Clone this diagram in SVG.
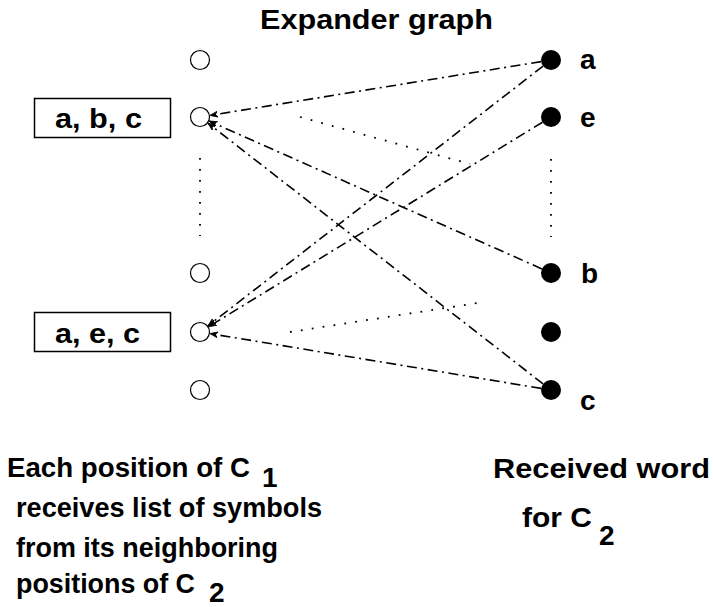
<svg xmlns="http://www.w3.org/2000/svg" width="713" height="607" viewBox="0 0 713 607">
  <style>
    text { font-family: "Liberation Sans", Arial, Helvetica, sans-serif; font-weight: bold; fill: #000; }
    .lbl { font-size: 28px; }
    .pos { fill: #fff; stroke: #000; stroke-width: 1.2; }
    .sym { fill: #000; }
    .box { fill: #fff; stroke: #000; stroke-width: 1.5; }
    .edge { stroke: #000; stroke-width: 1.6; fill: none; stroke-dasharray: 10 4.5 2 4.5; marker-end: url(#head); }
    .dots { stroke: #000; stroke-width: 1.8; fill: none; stroke-dasharray: 1.8 9.2; }
  </style>
  <defs>
    <marker id="head" markerUnits="userSpaceOnUse" markerWidth="10" markerHeight="8" refX="8" refY="3.5" orient="auto">
      <path d="M0,0.5 L8,3.5 L0,6.5 L2.5,3.5 Z" fill="#000" stroke="#000" stroke-width="0.8" stroke-linejoin="miter"/>
    </marker>
  </defs>

  <text class="lbl" x="260" y="29" textLength="233" lengthAdjust="spacingAndGlyphs">Expander graph</text>

  <!-- connectors: dash-dot edges carry symbols to the C1 positions -->
  <g id="connectors">
    <line class="edge" x1="541.1" y1="61.6" x2="209.9" y2="115.4"/>
    <line class="edge" x1="541.9" y1="268.9" x2="209.1" y2="121.1"/>
    <line class="edge" x1="543.1" y1="383.9" x2="207.9" y2="123.1"/>
    <line class="edge" x1="543.1" y1="66.1" x2="207.9" y2="325.9"/>
    <line class="edge" x1="542.5" y1="122.2" x2="208.5" y2="326.8"/>
    <line class="edge" x1="541.1" y1="388.4" x2="209.9" y2="333.6"/>
    <line class="dots" x1="300" y1="117" x2="470" y2="164"/>
    <line class="dots" x1="290" y1="332" x2="484" y2="302"/>
    <line class="dots" x1="200" y1="158" x2="200" y2="236"/>
    <line class="dots" x1="551" y1="159" x2="551" y2="237"/>
  </g>

  <!-- positions of C1 -->
  <g id="p1"><circle class="pos" cx="200" cy="60" r="9.5"/></g>
  <g id="p2"><circle class="pos" cx="200" cy="117" r="9.5"/></g>
  <g id="p3"><circle class="pos" cx="200" cy="273" r="9.5"/></g>
  <g id="p4"><circle class="pos" cx="200" cy="332" r="9.5"/></g>
  <g id="p5"><circle class="pos" cx="200" cy="390" r="9.5"/></g>

  <!-- symbol lists -->
  <g id="list1">
    <rect class="box" x="34.5" y="98.5" width="136" height="39"/>
    <text class="lbl" x="55" y="128" textLength="87" lengthAdjust="spacingAndGlyphs">a, b, c</text>
  </g>
  <g id="list2">
    <rect class="box" x="34.5" y="312.5" width="136" height="39"/>
    <text class="lbl" x="55" y="342.5" textLength="85" lengthAdjust="spacingAndGlyphs">a, e, c</text>
  </g>

  <!-- received word symbols -->
  <g id="s1"><circle class="sym" cx="551" cy="60" r="10"/><text class="lbl" x="580" y="69">a</text></g>
  <g id="s2"><circle class="sym" cx="551" cy="117" r="10"/><text class="lbl" x="580" y="127">e</text></g>
  <g id="s3"><circle class="sym" cx="551" cy="273" r="10"/><text class="lbl" x="581" y="283">b</text></g>
  <g id="s4"><circle class="sym" cx="551" cy="332" r="10"/></g>
  <g id="s5"><circle class="sym" cx="551" cy="390" r="10"/><text class="lbl" x="580" y="410">c</text></g>

  <!-- captions -->
  <g id="caption-left">
    <text class="lbl" x="7" y="477" textLength="243" lengthAdjust="spacingAndGlyphs">Each position of  C</text>
    <text class="lbl" x="262" y="487">1</text>
    <text class="lbl" x="16" y="517" textLength="306" lengthAdjust="spacingAndGlyphs">receives list of symbols</text>
    <text class="lbl" x="16" y="557" textLength="262" lengthAdjust="spacingAndGlyphs">from its neighboring</text>
    <text class="lbl" x="16" y="593" textLength="179" lengthAdjust="spacingAndGlyphs">positions of C</text>
    <text class="lbl" x="209" y="602">2</text>
  </g>
  <g id="caption-right">
    <text class="lbl" x="493" y="478" textLength="217" lengthAdjust="spacingAndGlyphs">Received word</text>
    <text class="lbl" x="522" y="527" textLength="70" lengthAdjust="spacingAndGlyphs">for C</text>
    <text class="lbl" x="599" y="545">2</text>
  </g>
</svg>
